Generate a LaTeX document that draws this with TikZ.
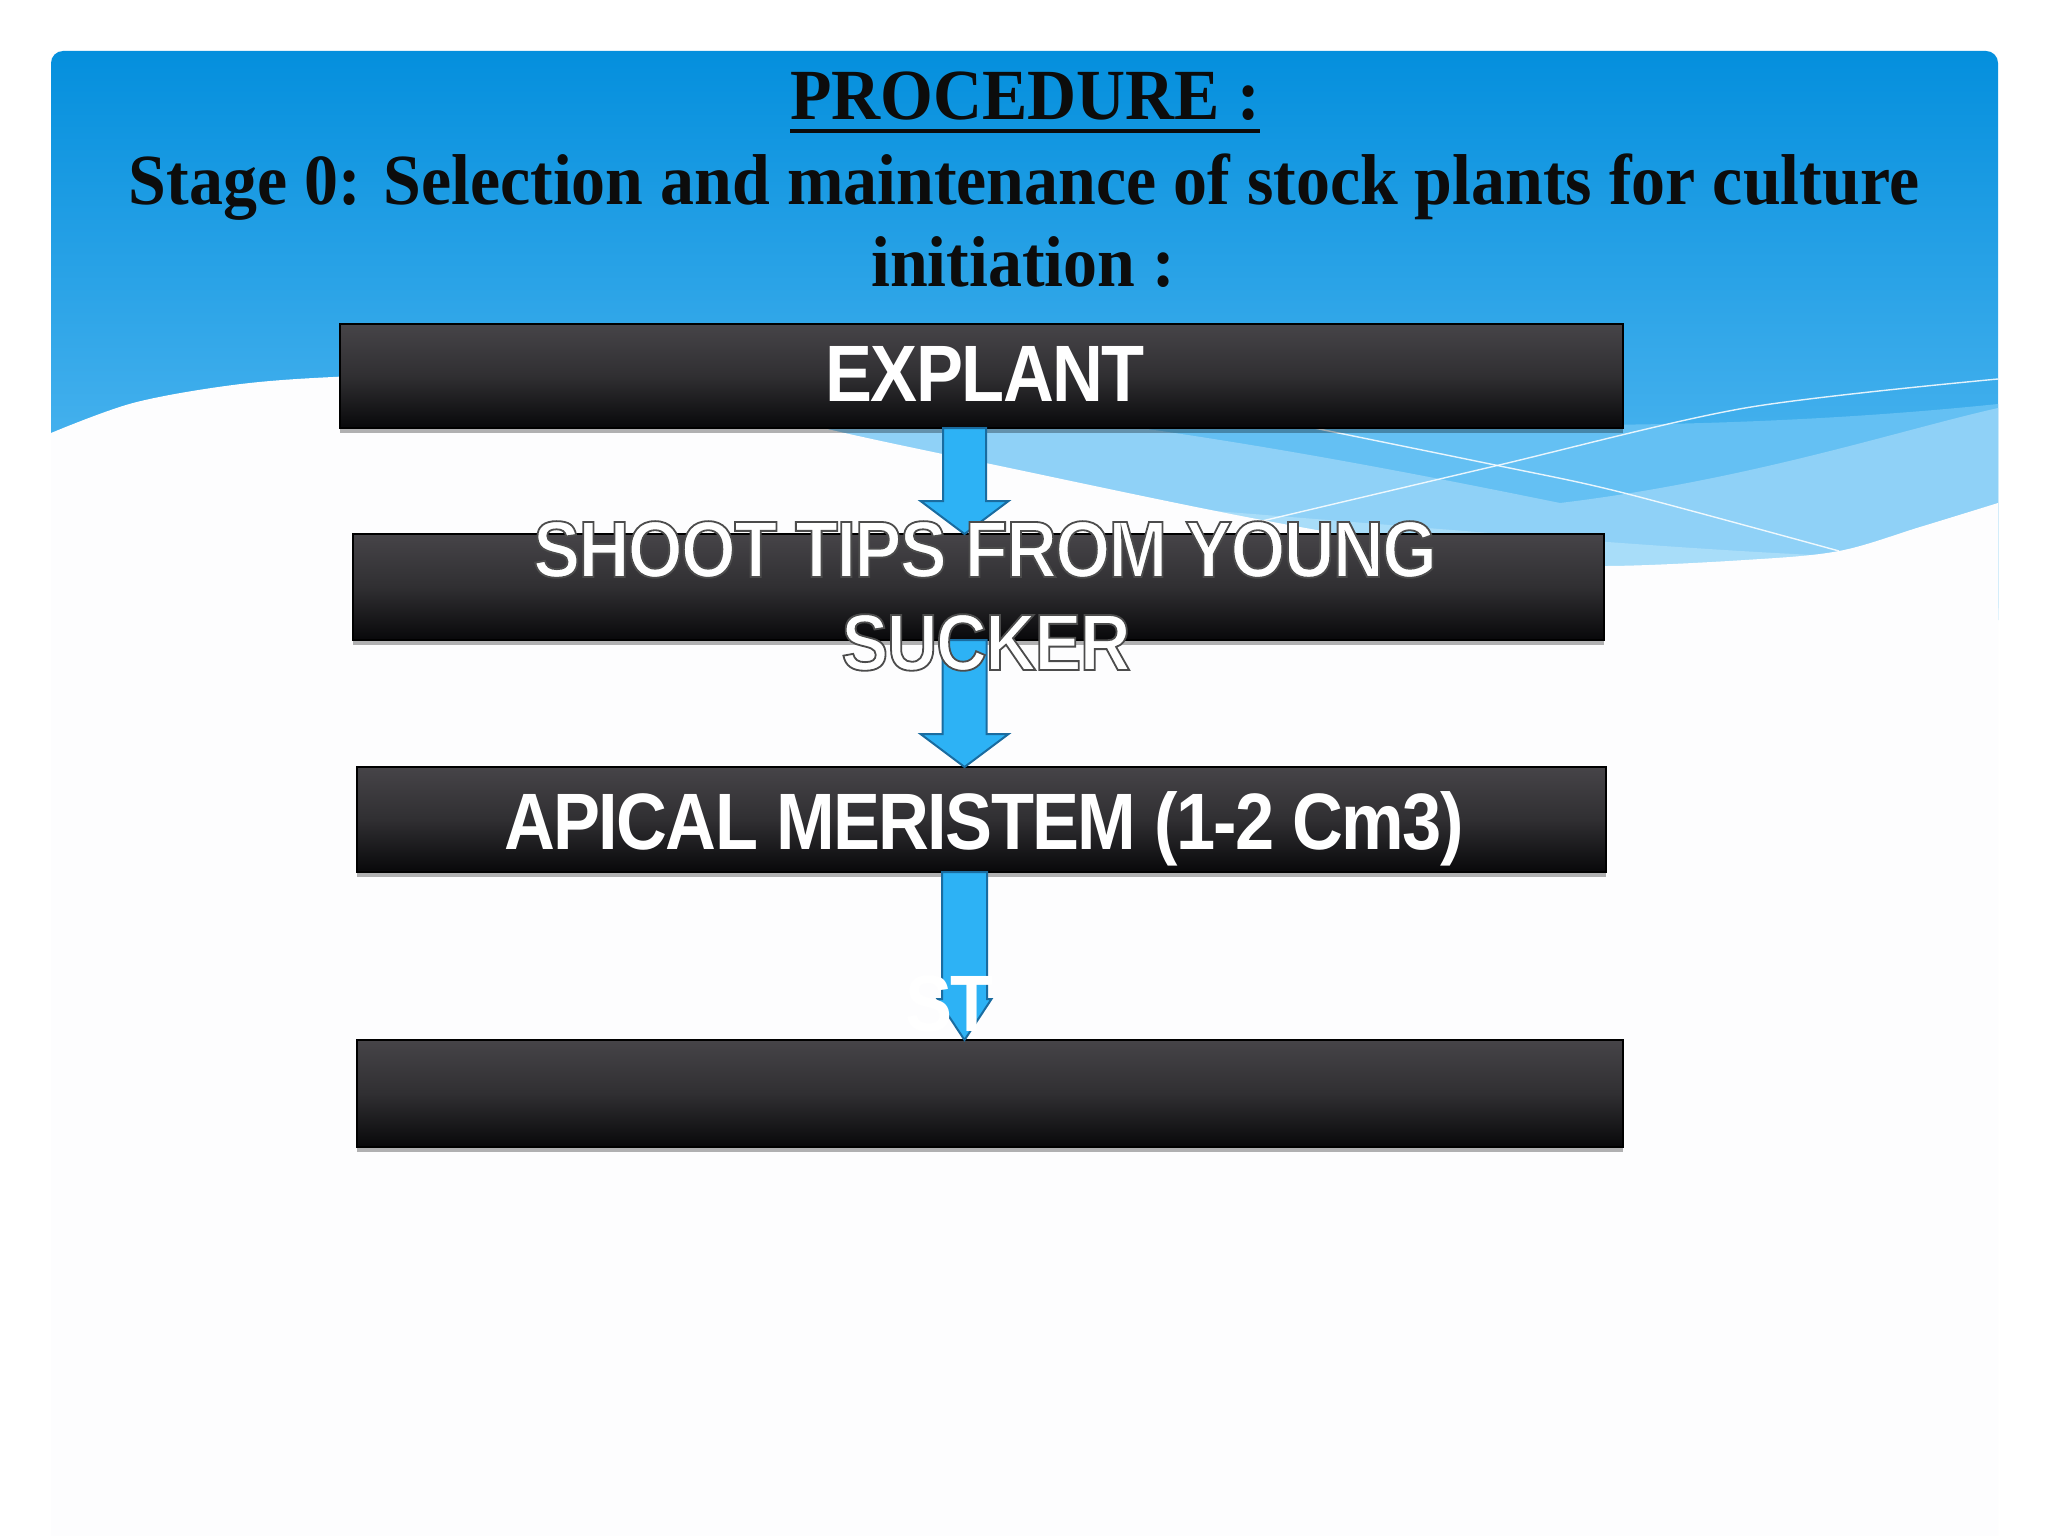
\documentclass[tikz,border=0pt]{standalone}
\usepackage{fontspec}
\setmainfont{Liberation Serif}
\newfontfamily\titlefont{Liberation Serif}[FakeStretch=0.943]
\newfontfamily\boxfont{Liberation Sans}[FakeStretch=0.88,LetterSpace=-2]
\usetikzlibrary{calc,shadows}
\definecolor{bluetop}{RGB}{4,143,221}
\definecolor{bluebot}{RGB}{98,192,245}
\definecolor{bandmid}{RGB}{100,192,243}
\definecolor{bandlight}{RGB}{143,209,247}
\definecolor{bandlighter}{RGB}{168,221,249}
\definecolor{slidewhite}{RGB}{253,253,254}
\definecolor{boxtop}{RGB}{70,68,72}
\definecolor{boxmid}{RGB}{48,47,50}
\definecolor{boxbot}{RGB}{8,8,10}
\definecolor{arrowfill}{RGB}{45,178,245}
\definecolor{arrowline}{RGB}{26,108,160}
\definecolor{titleink}{RGB}{12,12,12}
\tikzset{
  stepbox/.style={draw=black, line width=0.8pt, inner sep=0pt, outer sep=0pt,
    top color=boxtop, bottom color=boxbot, middle color=boxmid,
    drop shadow={shadow xshift=0pt, shadow yshift=-2.5pt, opacity=0.3, fill=black}},
  boxtext/.style={inner sep=0pt, outer sep=0pt, text=white,
    font=\boxfont\bfseries\fontsize{40pt}{46pt}\selectfont},
  titletext/.style={inner sep=0pt, outer sep=0pt, text=titleink,
    font=\titlefont\bfseries\fontsize{36pt}{41pt}\selectfont},
  arrowbody/.style={fill=arrowfill, draw=arrowline, line width=1pt, line join=miter},
  waveline/.style={draw=white, line width=0.7pt, opacity=0.85}
}
% white letters with a dark edge (stands in for the text shadow)
\newcommand\edged[1]{\special{pdf:literal direct 2 Tr 0.9 w 0.3 G}#1\special{pdf:literal direct 0 Tr}}
\newcommand\flowarrow[6]{%
  \draw[arrowbody] ($(#1.south -| #6)+(-#3,0)$) -- ($(#2.north -| #6)+(-#3,-#5)$)
    -- ($(#2.north -| #6)+(-#4,-#5)$) -- (#2.north -| #6)
    -- ($(#2.north -| #6)+(#4,-#5)$) -- ($(#2.north -| #6)+(#3,-#5)$)
    -- ($(#1.south -| #6)+(#3,0)$) -- cycle;}
\begin{document}
\begin{tikzpicture}[x=0.5pt, y=-0.5pt]
\useasboundingbox (0,0) rectangle (2048,1536);
\fill[white] (0,0) rectangle (2048,1536);
% slide background
\fill[slidewhite] (51,51) rectangle (1998,1536);
\shade[top color=bluetop, bottom color=bluebot, rounded corners=6pt] (51,51) rectangle (1998,620);
\fill[bandmid] (880,392) .. controls (1200,418) and (1600,445) .. (1998,404) -- (1998,620) -- (880,620) -- cycle;
\fill[bandlight] (760,392) .. controls (1050,405) and (1300,450) .. (1560,503) .. controls (1750,480) and (1900,430) .. (1998,408) -- (1998,620) -- (760,620) -- cycle;
\fill[bandlighter] (1150,506) .. controls (1400,525) and (1650,548) .. (1836,556) -- (1836,620) -- (1150,620) -- cycle;
\fill[slidewhite] plot[smooth, tension=0.55] coordinates {(51,433) (133,403) (233,385) (333,377) (500,372) (700,395) (823,428) (1000,466) (1262,520) (1500,560) (1605,566) (1745,560) (1839,551) (1920,527) (1998,503)} -- (1998,1536) -- (51,1536) -- cycle;
\draw[waveline] plot[smooth] coordinates {(1262,521) (1495,466) (1745,408) (1998,379)};
\draw[waveline] plot[smooth] coordinates {(1250,415) (1495,465) (1620,492) (1839,551)};
% boxes
\node[stepbox, minimum width=641.5pt, minimum height=52pt] (b1) at (981.5,376) {};
\node[stepbox, minimum width=625.5pt, minimum height=53pt] (b2) at (978.5,587) {};
\node[stepbox, minimum width=624.5pt, minimum height=52.5pt] (b3) at (981.5,819.5) {};
\node[stepbox, minimum width=633pt, minimum height=53.5pt] (b4) at (990,1093.5) {};
% arrows
\coordinate (ax) at (964.5,0);
\flowarrow{b1}{b2}{21.5}{44}{33}{ax}
\flowarrow{b2}{b3}{22}{44}{33}{ax}
\flowarrow{b3}{b4}{22.5}{27}{41}{ax}
% title
\node[titletext, anchor=base] (title) at (1025,119.5) {PROCEDURE :};
\draw[titleink, line width=2.25pt] ([yshift=-5.75pt]title.base west) -- ([yshift=-5.75pt]title.base east);
\node[titletext, anchor=base] (stage) at (1024,204) {Stage 0: Selection and maintenance of stock plants for culture};
\node[titletext, anchor=base] (init) at (1023,286) {initiation :};
% box texts
\node[boxtext, anchor=base] (t1) at (985,401) {EXPLANT};
\node[boxtext, anchor=base] (t2a) at (985,577) {\edged{SHOOT TIPS FROM YOUNG}};
\node[boxtext, anchor=base] (t2b) at (986,670) {\edged{SUCKER}};
\node[boxtext, anchor=base] (t3) at (984,849) {APICAL MERISTEM (1-2 Cm3)};
\node[boxtext, anchor=base west] (t4) at (905,1031) {ST};
\end{tikzpicture}
\end{document}
